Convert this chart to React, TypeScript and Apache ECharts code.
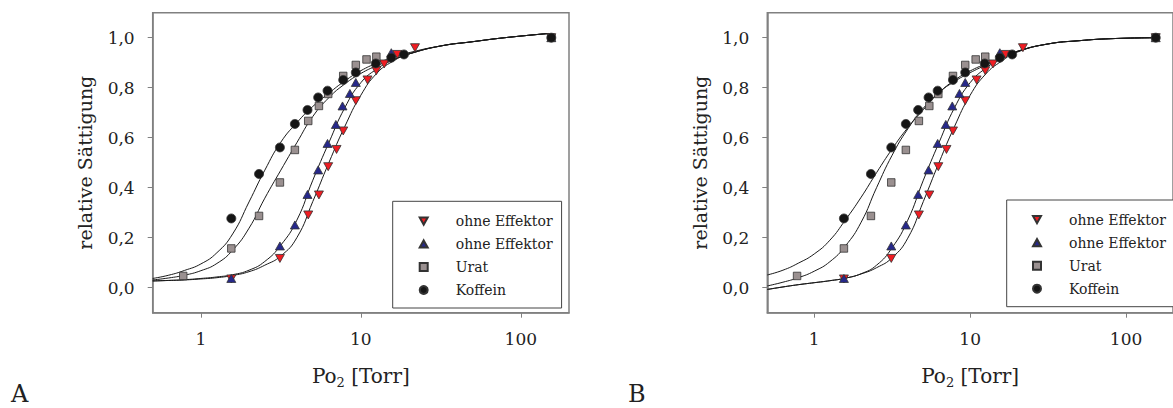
import React, { useEffect, useRef } from "react";
import * as echarts from "echarts";

// ---------- measured points (same data in both panels) ----------
const redPo2 = [1.55, 3.12, 4.69, 5.47, 6.25, 7.05, 7.76, 9.3, 11.0, 12.5, 14.0, 16.9, 21.8, 155];
const redSat = [0.035, 0.117, 0.291, 0.371, 0.484, 0.553, 0.627, 0.748, 0.831, 0.868, 0.895, 0.933, 0.96, 1.0];

const bluePo2 = [1.55, 3.12, 3.87, 4.64, 5.41, 6.19, 6.98, 7.68, 8.54, 9.3, 15.5, 155];
const blueSat = [0.037, 0.167, 0.251, 0.373, 0.471, 0.577, 0.653, 0.727, 0.777, 0.821, 0.94, 1.0];

const uratPo2 = [0.776, 1.55, 2.31, 3.12, 3.87, 4.69, 5.47, 6.25, 7.76, 9.3, 10.85, 12.5, 155];
const uratSat = [0.047, 0.157, 0.287, 0.421, 0.551, 0.667, 0.727, 0.775, 0.847, 0.891, 0.913, 0.924, 1.0];

const koffPo2 = [1.55, 2.31, 3.12, 3.87, 4.64, 5.41, 6.19, 7.76, 9.3, 12.4, 15.5, 18.6, 155];
const koffSat = [0.277, 0.455, 0.561, 0.655, 0.711, 0.761, 0.788, 0.831, 0.861, 0.897, 0.92, 0.933, 1.0];

// ---------- fitted curves ----------
const curveXA = [0.5, 0.63, 0.79, 1, 1.26, 1.58, 2, 2.51, 3.16, 3.98, 5.01, 6.31, 7.94, 10, 12.6, 15.8, 20, 31.6, 50, 79.4, 150];
const curveXB = [0.5, 0.63, 0.79, 1, 1.26, 1.58, 2, 2.51, 3.16, 3.98, 5.01, 6.31, 7.94, 10, 12.6, 15.8, 20, 31.6, 50, 79.4, 154];

const aKoffY = [0.037, 0.05, 0.069, 0.095, 0.14, 0.215, 0.343, 0.47, 0.582, 0.66, 0.725, 0.778, 0.827, 0.868, 0.898, 0.92, 0.94, 0.967, 0.984, 1.0, 1.017];
const aUratY = [0.031, 0.039, 0.05, 0.068, 0.097, 0.15, 0.238, 0.358, 0.47, 0.58, 0.685, 0.76, 0.815, 0.857, 0.888, 0.912, 0.935, 0.967, 0.984, 1.0, 1.017];
const aBlueY = [0.027, 0.029, 0.032, 0.037, 0.043, 0.052, 0.07, 0.105, 0.17, 0.27, 0.43, 0.58, 0.72, 0.82, 0.875, 0.91, 0.935, 0.967, 0.984, 1.0, 1.017];
const aRedY = [0.027, 0.029, 0.031, 0.035, 0.04, 0.049, 0.064, 0.09, 0.127, 0.2, 0.345, 0.5, 0.645, 0.77, 0.858, 0.905, 0.935, 0.967, 0.984, 1.0, 1.017];

const bKoffY = [0.051, 0.07, 0.098, 0.135, 0.19, 0.27, 0.362, 0.46, 0.555, 0.64, 0.712, 0.78, 0.825, 0.86, 0.89, 0.915, 0.945, 0.975, 0.988, 0.996, 1.0];
const bUratY = [0.007, 0.022, 0.04, 0.066, 0.104, 0.166, 0.262, 0.4, 0.53, 0.635, 0.718, 0.78, 0.83, 0.867, 0.895, 0.918, 0.945, 0.975, 0.988, 0.996, 1.0];
const bBlueY = [-0.007, 0.003, 0.012, 0.02, 0.028, 0.038, 0.056, 0.09, 0.16, 0.27, 0.43, 0.58, 0.72, 0.82, 0.878, 0.915, 0.945, 0.975, 0.988, 0.996, 1.0];
const bRedY = [-0.007, 0.003, 0.012, 0.02, 0.028, 0.038, 0.055, 0.08, 0.12, 0.198, 0.345, 0.5, 0.645, 0.77, 0.855, 0.905, 0.942, 0.975, 0.988, 0.996, 1.0];

// ---------- axis ticks / labels ----------
const xTicks = [1, 10, 100];
const yTicks = [0, 0.2, 0.4, 0.6, 0.8, 1.0];
const seriesNames = ["ohne Effektor (1)", "ohne Effektor (2)", "Urat", "Koffein"];
const panelLetters = ["A", "B"];

const FONT = "DejaVu Serif";
const zip = (xs: number[], ys: number[]) => xs.map((x, i) => [x, ys[i]]);

const curvesByPanel = [
  [zip(curveXA, aRedY), zip(curveXA, aBlueY), zip(curveXA, aUratY), zip(curveXA, aKoffY)],
  [zip(curveXB, bRedY), zip(curveXB, bBlueY), zip(curveXB, bUratY), zip(curveXB, bKoffY)],
];
const points = [zip(redPo2, redSat), zip(bluePo2, blueSat), zip(uratPo2, uratSat), zip(koffPo2, koffSat)];

const markerStyles = [
  { symbol: "path://M0,0L10,0L5,9Z", symbolSize: [9, 8], color: "#f01c22" },
  { symbol: "path://M5,0L10,9L0,9Z", symbolSize: [9, 8], color: "#26288a" },
  { symbol: "path://M0,0L10,0L10,10L0,10Z", symbolSize: 7.5, color: "#9a9090" },
  { symbol: "circle", symbolSize: 9, color: "#151515" },
];

const grids = [
  { left: 152.7, top: 12.7, width: 416.3, height: 300 },
  { left: 767.3, top: 12.7, width: 417.4, height: 300 },
];
const legendPos = [
  { left: 392.7, top: 201.3, padLeft: 26 },
  { left: 1006.7, top: 200, padLeft: 25.3 },
];

export default function App() {
  const ref = useRef<HTMLDivElement>(null);
  useEffect(() => {
    if (!ref.current) return;
    const chart = echarts.init(ref.current, undefined, { renderer: "svg" });
    const series: any[] = [];
    [0, 1].forEach((p) => {
      curvesByPanel[p].forEach((c, i) => {
        series.push({
          type: "line",
          name: "fit " + i,
          xAxisIndex: p,
          yAxisIndex: p,
          data: c,
          smooth: 0.5,
          showSymbol: false,
          symbol: "none",
          lineStyle: { color: "#1a1a1a", width: 1 },
          z: 2,
          silent: true,
        });
      });
      points.forEach((d, i) => {
        series.push({
          type: "scatter",
          name: seriesNames[i],
          xAxisIndex: p,
          yAxisIndex: p,
          data: d,
          symbol: markerStyles[i].symbol,
          symbolSize: markerStyles[i].symbolSize,
          itemStyle: { color: markerStyles[i].color, borderColor: "#333", borderWidth: 0.8, opacity: 1 },
          z: 3,
        });
      });
    });
    const option: any = {
      animation: false,
      textStyle: { fontFamily: FONT },
      grid: grids.map((g) => ({
        ...g,
        show: true,
        borderColor: "#808080",
        borderWidth: 1.5,
        backgroundColor: "transparent",
        containLabel: false,
      })),
      xAxis: [0, 1].map((p) => ({
        type: "log",
        logBase: 10,
        gridIndex: p,
        min: 0.5,
        max: 200,
        axisLine: { show: true, onZero: false, lineStyle: { color: "#808080", width: 1.5 } },
        axisTick: { show: true, customValues: xTicks, length: 5, lineStyle: { color: "#808080", width: 1 } },
        axisLabel: { customValues: xTicks, margin: 18, fontSize: 17, color: "#222", fontFamily: FONT },
        splitLine: { show: false },
        minorTick: { show: false },
        name: "{a|Po}{s|2}{a| [Torr]}",
        nameLocation: "middle",
        nameGap: 51,
        nameTextStyle: {
          rich: {
            a: { fontSize: 20, fontFamily: FONT, color: "#222" },
            s: { fontSize: 13, fontFamily: FONT, color: "#222", padding: [12, 0, 0, 0] },
          },
        },
      })),
      yAxis: [0, 1].map((p) => ({
        type: "value",
        gridIndex: p,
        min: -0.1,
        max: 1.1,
        axisLine: { show: true, onZero: false, lineStyle: { color: "#808080", width: 1.5 } },
        axisTick: { show: true, customValues: yTicks, length: 5, lineStyle: { color: "#808080", width: 1 } },
        axisLabel: {
          customValues: yTicks,
          margin: 18,
          fontSize: 17,
          color: "#222",
          fontFamily: FONT,
          formatter: (v: number) => v.toFixed(1).replace(".", ","),
        },
        splitLine: { show: false },
        name: "relative Sättigung",
        nameLocation: "middle",
        nameGap: 58,
        nameTextStyle: { fontSize: 19, fontFamily: FONT, color: "#222" },
      })),
      legend: legendPos.map((lp) => ({
        left: lp.left,
        top: lp.top,
        data: seriesNames,
        orient: "vertical",
        itemWidth: 8,
        itemHeight: 8,
        itemGap: 9,
        padding: [12.7, 9, 11, lp.padLeft],
        borderColor: "#444",
        borderWidth: 1,
        backgroundColor: "#fff",
        symbolKeepAspect: true,
        selectedMode: false,
        textStyle: {
          fontSize: 14,
          lineHeight: 14,
          fontFamily: FONT,
          color: "#222",
          rich: {
            g: { width: 23, fontSize: 14, lineHeight: 14 },
            t: { fontSize: 14, lineHeight: 14, fontFamily: FONT, color: "#222" },
          },
        },
        formatter: (n: string) => "{g|}{t|" + n.replace(/ \(\d\)$/, "") + "}",
      })),
      graphic: [
        { type: "text", x: 11, y: 406, style: { text: panelLetters[0], fontSize: 24, fontFamily: FONT, fill: "#222", verticalAlign: "bottom" } },
        { type: "text", x: 628, y: 406, style: { text: panelLetters[1], fontSize: 24, fontFamily: FONT, fill: "#222", verticalAlign: "bottom" } },
      ],
      series,
    };
    chart.setOption(option);
    return () => chart.dispose();
  }, []);
  return (
    <div
      ref={ref}
      style={{ position: "fixed", left: 0, top: 0, width: 1173, height: 408, background: "#fff" }}
    />
  );
}
